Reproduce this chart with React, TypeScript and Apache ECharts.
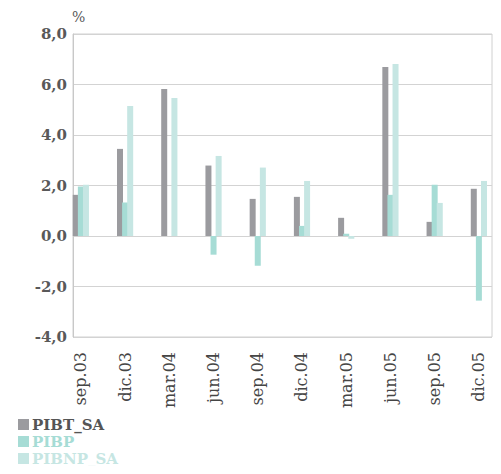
import React, { useEffect, useRef } from "react";
import * as echarts from "echarts";

const categories = ["sep.03", "dic.03", "mar.04", "jun.04", "sep.04", "dic.04", "mar.05", "jun.05", "sep.05", "dic.05"];
const pibtSA = [1.63, 3.45, 5.82, 2.79, 1.47, 1.55, 0.72, 6.69, 0.56, 1.87];
const pibp = [1.96, 1.33, 0.0, -0.74, -1.18, 0.4, 0.09, 1.63, 2.03, -2.56];
const pibnpSA = [2.03, 5.15, 5.47, 3.17, 2.71, 2.18, -0.11, 6.81, 1.31, 2.18];
const seriesNames = ["PIBT_SA", "PIBP", "PIBNP_SA"];
const colors = ["#9b9b9f", "#a6dcd5", "#c6e6e3"];
const legendTextColors = ["#555555", "#a6dcd5", "#c6e6e3"];

const FONT = "DejaVu Serif";

export default function App() {
  const ref = useRef<HTMLDivElement>(null);
  useEffect(() => {
    if (!ref.current) return;
    const chart = echarts.init(ref.current, undefined, { renderer: "svg" });
    const values = [pibtSA, pibp, pibnpSA];
    chart.setOption({
      animation: false,
      backgroundColor: "#ffffff",
      textStyle: { fontFamily: FONT },
      grid: [
        { left: 73, top: 34, width: 419, height: 303, show: true, borderColor: "#d0d0d0", borderWidth: 1, backgroundColor: "transparent" },
        { left: 58.75, top: 34, width: 445, height: 303 },
      ],
      legend: seriesNames.map((n, i) => ({
        orient: "vertical",
        left: 14,
        top: 413 + i * 17,
        padding: [4, 4, 0, 4],
        itemWidth: 11,
        itemHeight: 11,
        itemGap: 0,
        icon: "rect",
        textStyle: { fontFamily: FONT, fontSize: 15, fontWeight: "bold", lineHeight: 14, color: legendTextColors[i], padding: [0, 0, 0, -2] },
        data: [n],
      })),
      xAxis: [
        { type: "value", gridIndex: 0, show: false, min: 0, max: 1 },
        {
          type: "category",
          gridIndex: 1,
          data: categories,
          axisLine: { show: false },
          axisTick: { show: false },
          axisLabel: { rotate: 90, margin: 15, color: "#454545", fontFamily: FONT, fontSize: 16, interval: 0 },
        },
      ],
      yAxis: [
        {
          type: "value",
          gridIndex: 0,
          min: -4,
          max: 8,
          interval: 2,
          name: "%",
          nameLocation: "end",
          nameGap: 10,
          nameTextStyle: { color: "#595959", fontFamily: FONT, fontSize: 14, align: "left", padding: [0, 0, 0, -1] },
          axisLine: { show: true, lineStyle: { color: "#c8c8c8" } },
          axisTick: { show: false },
          splitLine: { show: true, lineStyle: { color: "#d3d3d3" } },
          axisLabel: {
            color: "#595959",
            fontFamily: FONT,
            fontSize: 15,
            fontWeight: "bold",
            margin: 6,
            formatter: (v: number) => v.toFixed(1).replace(".", ","),
          },
        },
        { type: "value", gridIndex: 1, min: -4, max: 8, show: false },
      ],
      series: seriesNames.map((n, i) => ({
        name: n,
        type: "bar",
        xAxisIndex: 1,
        yAxisIndex: 1,
        data: values[i],
        barWidth: 6,
        barGap: "-15%",
        itemStyle: { color: colors[i] },
      })),
    });
    return () => chart.dispose();
  }, []);
  return <div ref={ref} style={{ width: 501, height: 474, margin: -8 }} />;
}
